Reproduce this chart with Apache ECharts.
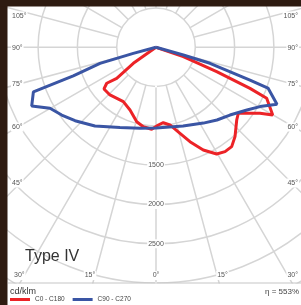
<!DOCTYPE html>
<html>
<head>
<meta charset="utf-8">
<script src="https://cdn.jsdelivr.net/npm/echarts@6/dist/echarts.min.js"></script>
<style>
html, body { margin: 0; padding: 0; background: #fff; }
#chart { width: 301px; height: 305px; }
</style>
</head>
<body>
<div id="chart"></div>
<script>
// angles from nadir (0 = straight down), negative = left half of the diagram
var redAngles = [-90, -54.8, -51.7, -53.9, -51.3, -44, -31, -22.5, -14.5, -9.1, -3, 1.7, 5.5, 10.2, 15.6, 19.8, 24.7, 29.6, 33.5, 37.3, 41.5, 48, 51.3, 57.6, 59.9, 65.3, 66.4, 68.1, 71, 90];
var redCd = [0, 353, 637, 776, 848, 843, 807, 864, 978, 1023, 1044, 989, 964, 1004, 1136, 1276, 1438, 1562, 1592, 1589, 1517, 1382, 1342, 1567, 1716, 1550, 1305, 832, 367, 0];

var blueAngles = [-90, -75, -74, -71, -70, -64.7, -60.1, -54.3, -47.8, -37.8, -24.2, -11, 0, 12, 19, 32, 40, 47.5, 55.4, 60.3, 64.8, 70, 70.8, 73.5, 74.2, 90];
var blueCd = [0, 299, 741, 1113, 1660, 1749, 1556, 1477, 1390, 1267, 1118, 1050, 1027, 1033, 1058, 1137, 1207, 1276, 1406, 1523, 1701, 1516, 1266, 716, 361, 0];

var cdLabels = [1500, 2000, 2500];
var sideAngles = [105, 90, 75, 60, 45];
var bottomAngles = [30, 15, 0, 15, 30];

var seriesNames = ['C0 - C180', 'C90 - C270'];
var seriesColors = ['#ec2327', '#3a55a4'];

var toAxis = function(a) {
	return a < 0 ? a + 360 : a;
};
var pairs = function(cd, ang) {
	return cd.map(function(v, i) { return [v, toAxis(ang[i])]; });
};

var gridColor = '#d5d5d5';
var labelFont = '7px "Liberation Sans"';

// angle labels sit where the radial lines leave the frame
var sideY = [16, 48, 84.5, 127, 183];
var bottomX = [[13, 'left'], [90, 'center'], [156, 'center'], [222.5, 'center'], [299, 'right']];

var graphics = [];
// blank hub in the middle: no radial lines inside the first circle
graphics.push({ type: 'circle', z: 1, silent: true, shape: { cx: 156, cy: 47.3, r: 39 }, style: { fill: '#fff' } });
// white area under the frame + frame line
graphics.push({ type: 'rect', z: 10, silent: true, shape: { x: 0, y: 283.5, width: 301, height: 22 }, style: { fill: '#fff' } });
graphics.push({ type: 'line', z: 11, silent: true, shape: { x1: 8, y1: 283, x2: 301, y2: 283 }, style: { stroke: '#c6c6c6', lineWidth: 1.2 } });
// dark border
graphics.push({ type: 'rect', z: 12, silent: true, shape: { x: 0, y: 0, width: 7.5, height: 305 }, style: { fill: '#2e1b11' } });
graphics.push({ type: 'rect', z: 12, silent: true, shape: { x: 0, y: 0, width: 301, height: 6.5 }, style: { fill: '#2e1b11' } });

sideAngles.forEach(function(a, i) {
	graphics.push({ type: 'text', z: 11, silent: true, style: { text: a + '°', x: 11, y: sideY[i], align: 'left', verticalAlign: 'middle', font: labelFont, fill: '#555', backgroundColor: '#fff', padding: [1, 1] } });
	graphics.push({ type: 'text', z: 11, silent: true, style: { text: a + '°', x: 299, y: sideY[i], align: 'right', verticalAlign: 'middle', font: labelFont, fill: '#555', backgroundColor: '#fff', padding: [1, 1] } });
});
bottomAngles.forEach(function(a, i) {
	graphics.push({ type: 'text', z: 11, silent: true, style: { text: a + '°', x: bottomX[i][0], y: 275.5, align: bottomX[i][1], verticalAlign: 'middle', font: labelFont, fill: '#555', backgroundColor: '#fff', padding: [1, 1] } });
});

graphics.push({ type: 'text', z: 11, silent: true, style: { text: 'Type IV', x: 25, y: 257, verticalAlign: 'middle', font: '16px "Liberation Sans"', fill: '#333' } });
graphics.push({ type: 'text', z: 11, silent: true, style: { text: 'cd/klm', x: 10, y: 292, verticalAlign: 'middle', font: '9px "Liberation Sans"', fill: '#333' } });
graphics.push({ type: 'text', z: 11, silent: true, style: { text: 'η = 553%', x: 299, y: 292, align: 'right', verticalAlign: 'middle', font: '8px "Liberation Sans"', fill: '#444' } });

var option = {
	animation: false,
	backgroundColor: '#fff',
	polar: {
		center: [156, 47.3],
		radius: [0, 314.4]
	},
	angleAxis: {
		type: 'value',
		min: 0,
		max: 360,
		interval: 15,
		startAngle: 270,
		clockwise: false,
		z: 0,
		axisLine: { show: false },
		axisTick: { show: false },
		axisLabel: { show: false },
		splitLine: { lineStyle: { color: gridColor, width: 1.5 } }
	},
	radiusAxis: {
		type: 'value',
		min: 0,
		max: 4000,
		interval: 500,
		z: 2,
		axisLine: { show: false },
		axisTick: { show: false },
		axisLabel: {
			margin: 0,
			align: 'center',
			verticalAlign: 'middle',
			fontSize: 7,
			fontFamily: 'Liberation Sans',
			color: '#555',
			backgroundColor: '#fff',
			padding: [1, 1],
			formatter: function(v) { return cdLabels.indexOf(v) >= 0 ? String(v) : ''; }
		},
		splitLine: { lineStyle: { color: gridColor, width: 1.5 } }
	},
	legend: {
		data: seriesNames,
		left: 10,
		top: 296,
		z: 20,
		padding: 0,
		icon: 'rect',
		itemWidth: 20,
		itemHeight: 3,
		itemGap: 8,
		textStyle: { fontSize: 6.5, fontFamily: 'Liberation Sans', color: '#444' }
	},
	graphic: { elements: graphics },
	series: [{
		name: seriesNames[0],
		type: 'line',
		coordinateSystem: 'polar',
		z: 3,
		showSymbol: false,
		smooth: false,
		color: seriesColors[0],
		lineStyle: { width: 3, color: seriesColors[0] },
		data: pairs(redCd, redAngles)
	}, {
		name: seriesNames[1],
		type: 'line',
		coordinateSystem: 'polar',
		z: 4,
		showSymbol: false,
		smooth: false,
		color: seriesColors[1],
		lineStyle: { width: 3, color: seriesColors[1] },
		data: pairs(blueCd, blueAngles)
	}]
};

var myChart = echarts.init(document.getElementById('chart'));
myChart.setOption(option);
</script>
</body>
</html>
